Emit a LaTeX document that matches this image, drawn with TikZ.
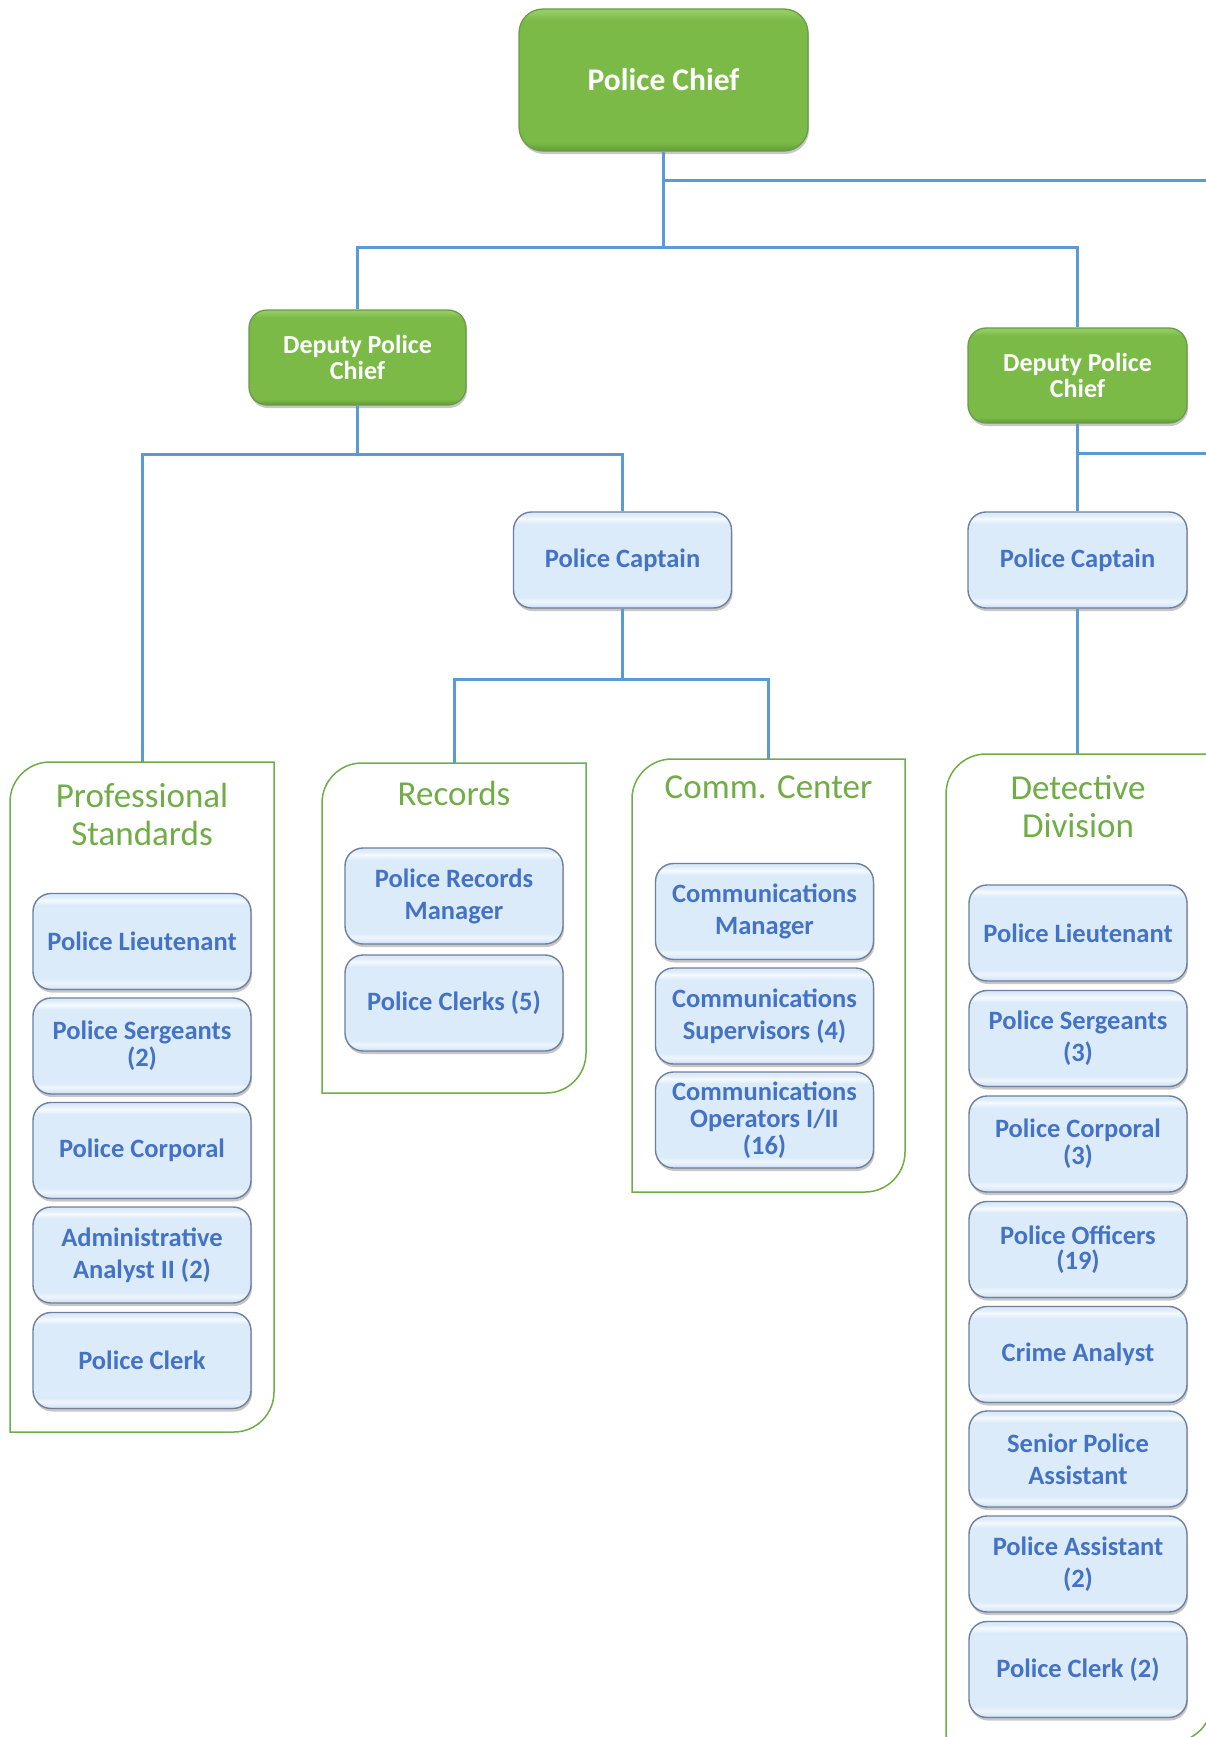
\documentclass[tikz,border=0pt]{standalone}
\usepackage{fontspec}
\setmainfont{Carlito}
\usetikzlibrary{calc,shadows}

\definecolor{linkblue}{HTML}{5B9BD5}
\definecolor{grpgreen}{HTML}{70AD47}
\definecolor{txtblue}{HTML}{4472C4}
\definecolor{lbMid}{HTML}{DCEBF9}
\definecolor{lbHi}{HTML}{F6FAFE}
\definecolor{lbLo}{HTML}{C4D7EC}
\definecolor{lbEdge}{HTML}{6F7F9E}
\definecolor{gMid}{HTML}{7BBA47}
\definecolor{gHi}{HTML}{93CC62}
\definecolor{gLo}{HTML}{5F9A35}
\definecolor{gEdge}{HTML}{6B9B47}

% bevelled fills: the path box maps to 25bp (bottom) .. 75bp (top)
\pgfdeclareverticalshading{paleBevel}{100bp}{color(0bp)=(lbLo); color(25bp)=(lbLo); color(26.5bp)=(lbMid); color(28.5bp)=(lbHi!70!lbMid); color(30.5bp)=(lbMid); color(69bp)=(lbMid); color(71.5bp)=(lbHi); color(73.5bp)=(lbMid); color(75bp)=(lbMid); color(100bp)=(lbMid)}
\pgfdeclareverticalshading{greenBevel}{100bp}{color(0bp)=(gLo); color(25bp)=(gLo); color(28bp)=(gMid); color(71bp)=(gMid); color(74bp)=(gHi); color(75bp)=(gHi); color(100bp)=(gHi)}

\tikzset{
  link/.style={draw=linkblue, line width=3pt},
  grpline/.style={draw=grpgreen, line width=1.5pt},
  grpnode/.style={rectangle, draw=none, inner sep=0pt, outer sep=0pt},
  grptitle/.style={text=grpgreen, align=center, font=\fontsize{35}{38}\selectfont},
  boxshadow/.style={drop shadow={shadow xshift=1pt, shadow yshift=-3pt, opacity=0.22, fill=black}},
  palebox/.style={rectangle, rounded corners=18pt, shading=paleBevel, draw=lbEdge,
    line width=1.4pt, minimum width=218pt, minimum height=96pt, inner sep=0pt,
    align=center, text=txtblue, font=\bfseries\fontsize{26.5}{32}\selectfont, boxshadow},
  tightlines/.style={font=\bfseries\fontsize{26.5}{27}\selectfont},
  greenbox/.style={rectangle, rounded corners=18pt, shading=greenBevel, draw=gEdge,
    line width=1.3pt, inner sep=0pt, align=center, text=white,
    font=\bfseries\fontsize{26}{26}\selectfont, boxshadow},
}

\begin{document}
\begin{tikzpicture}[x=1pt,y=1pt]
\useasboundingbox (0,0) rectangle (1206,-1737);
\clip (0,0) rectangle (1206,-1737);
\fill[white] (0,0) rectangle (1206,-1737);

% ---- group frames (square corners except top-left and bottom-right) ----
\node[grpnode, minimum width=264pt, minimum height=670pt] (psF) at (142,-1097) {};
\node[grpnode, minimum width=264pt, minimum height=330pt] (recF) at (454,-928) {};
\node[grpnode, minimum width=273pt, minimum height=433pt] (comF) at (768.5,-975.5) {};
\node[grpnode, minimum width=266pt, minimum height=988pt] (detF) at (1079,-1248) {};

\foreach \f in {psF,recF,comF,detF}{
  \draw[grpline] ($(\f.north west)+(40,0)$) -- (\f.north east)
    -- ($(\f.south east)+(0,40)$) arc[start angle=0, end angle=-90, radius=40]
    -- (\f.south west)
    -- ($(\f.north west)+(0,-40)$) arc[start angle=180, end angle=90, radius=40]
    -- cycle;
}

\node[grptitle] (psT) at (142,-814) {Professional\\Standards};
\node[grptitle] (recT) at (454,-793) {Records};
\node[grptitle] (comT) at (768.5,-787) {Comm. Center};
\node[grptitle] (detT) at (1078,-806.5) {Detective\\Division};

% ---- command boxes ----
\node[greenbox, minimum width=289pt, minimum height=142pt, rounded corners=24pt,
      font=\bfseries\fontsize{31.5}{31.5}\selectfont] (chief) at (663.5,-80) {Police Chief};
\node[greenbox, minimum width=217pt, minimum height=95pt] (dpL) at (357.5,-357.5) {Deputy Police\\Chief};
\node[greenbox, minimum width=219pt, minimum height=95pt] (dpR) at (1077.5,-375.5) {Deputy Police\\Chief};

\node[palebox] (cpM) at (622.5,-560) {Police Captain};
\node[palebox, minimum width=219pt] (cpR) at (1077.5,-560) {Police Captain};

% ---- connectors ----
\coordinate (j0) at (663.5,-247);
\coordinate (offA) at (1230,-180);
\coordinate (j1) at (357.5,-454);
\coordinate (j2) at (622.5,-679);
\coordinate (offB) at (1230,-453);

\draw[link] (chief.south) -- (j0);
\draw[link] (chief.south |- offA) -- (offA);
\draw[link] (dpL.north) |- (j0) -| (dpR.north);
\draw[link] (dpL.south) -- (j1);
\draw[link] (psF.north) |- (j1) -| (cpM.north);
\draw[link] (cpM.south) -- (j2);
\draw[link] (recF.north) |- (j2) -| (comF.north);
\draw[link] (dpR.south) -- (cpR.north);
\draw[link] (dpR.south |- offB) -- (offB);
\draw[link] (cpR.south) -- (cpR.south |- detF.north);

% ---- Professional Standards ----
\node[palebox] (ps1) at (142,-941.5) {Police Lieutenant};
\node[palebox, tightlines] (ps2) at (142,-1046) {Police Sergeants\\(2)};
\node[palebox] (ps3) at (142,-1150.5) {Police Corporal};
\node[palebox] (ps4) at (142,-1255) {Administrative\\Analyst II (2)};
\node[palebox] (ps5) at (142,-1360.5) {Police Clerk};

% ---- Records ----
\node[palebox] (rc1) at (454,-896) {Police Records\\Manager};
\node[palebox] (rc2) at (454,-1003) {Police Clerks (5)};

% ---- Comm. Center ----
\node[palebox] (cc1) at (764.5,-911.5) {Communications\\Manager};
\node[palebox] (cc2) at (764.5,-1016) {Communications\\Supervisors (4)};
\node[palebox, tightlines] (cc3) at (764.5,-1120) {Communications\\Operators I/II\\(16)};

% ---- Detective Division ----
\node[palebox] (dv1) at (1078,-933) {Police Lieutenant};
\node[palebox] (dv2) at (1078,-1038.5) {Police Sergeants\\(3)};
\node[palebox, tightlines] (dv3) at (1078,-1144) {Police Corporal\\(3)};
\node[palebox, font=\bfseries\fontsize{26.5}{25}\selectfont] (dv4) at (1078,-1249.5) {Police Officers\\(19)};
\node[palebox] (dv5) at (1078,-1354.5) {Crime Analyst};
\node[palebox] (dv6) at (1078,-1459) {Senior Police\\Assistant};
\node[palebox] (dv7) at (1078,-1564) {Police Assistant\\(2)};
\node[palebox] (dv8) at (1078,-1669.5) {Police Clerk (2)};
\end{tikzpicture}
\end{document}
